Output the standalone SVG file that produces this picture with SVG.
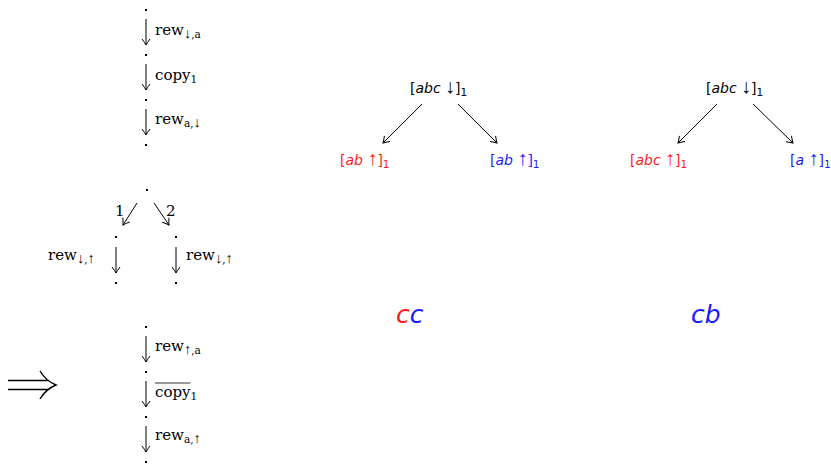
<svg xmlns="http://www.w3.org/2000/svg" width="831" height="465" viewBox="0 0 831 465">
<defs>
<marker id="ah" viewBox="-8 -5 10 10" markerWidth="10" markerHeight="10" refX="0" refY="0" orient="auto" markerUnits="userSpaceOnUse">
<path d="M-6,-4 Q-2,-1 0,0 Q-2,1 -6,4" fill="none" stroke="#000" stroke-width="1"/>
</marker>
</defs>
<style>
.s{font-family:"DejaVu Serif","Liberation Serif",serif;font-size:15px;fill:#000}
.sub{font-size:10.5px}
.ar{font-family:"Liberation Sans","DejaVu Sans",sans-serif;font-size:14.5px}
.ta{font-family:"Liberation Sans","DejaVu Sans",sans-serif;font-size:20px}
.t{font-family:"DejaVu Sans","Liberation Sans",sans-serif;font-size:14px}
.i{font-style:italic}
.k{fill:#000}.r{fill:#ff1a1a}.b{fill:#1a1aff}
.dot{fill:#000}
.e{stroke:#000;stroke-width:1;fill:none;marker-end:url(#ah)}
.big{font-family:"DejaVu Sans","Liberation Sans",sans-serif;font-size:25px;font-style:italic}
</style>
<g id="left-top">
<rect class="dot" x="145" y="9" width="2" height="2"/>
<rect class="dot" x="145" y="54" width="2" height="2"/>
<rect class="dot" x="145" y="99" width="2" height="2"/>
<rect class="dot" x="145" y="144" width="2" height="2"/>
<text class="s" x="155" y="35">rew<tspan class="sub" dy="3"><tspan class="ar">↓</tspan>,a</tspan></text>
<text class="s" x="155" y="80">copy<tspan class="sub" dy="3">1</tspan></text>
<text class="s" x="155" y="124">rew<tspan class="sub" dy="3">a,<tspan class="ar">↓</tspan></tspan></text>
</g>
<g id="left-mid">
<rect class="dot" x="146" y="189" width="2" height="2"/>
<rect class="dot" x="115" y="236" width="2" height="2"/>
<rect class="dot" x="175" y="236" width="2" height="2"/>
<rect class="dot" x="115" y="282" width="2" height="2"/>
<rect class="dot" x="175" y="282" width="2" height="2"/>
<text class="s" x="115" y="216">1</text>
<text class="s" x="166" y="216">2</text>
<text class="s" x="48" y="260">rew<tspan class="sub" dy="3"><tspan class="ar">↓</tspan>,<tspan class="ar">↑</tspan></tspan></text>
<text class="s" x="186" y="260">rew<tspan class="sub" dy="3"><tspan class="ar">↓</tspan>,<tspan class="ar">↑</tspan></tspan></text>
</g>
<g id="left-bottom">
<rect class="dot" x="145" y="326" width="2" height="2"/>
<rect class="dot" x="145" y="371" width="2" height="2"/>
<rect class="dot" x="145" y="416" width="2" height="2"/>
<rect class="dot" x="145" y="461" width="2" height="2"/>
<text class="s" x="155" y="351">rew<tspan class="sub" dy="3"><tspan class="ar">↑</tspan>,a</tspan></text>
<text class="s" x="155" y="397">copy<tspan class="sub" dy="3">1</tspan></text>
<line x1="155" y1="383" x2="190.5" y2="383" stroke="#000" stroke-width="0.8"/>
<text class="s" x="155" y="440">rew<tspan class="sub" dy="3">a,<tspan class="ar">↑</tspan></tspan></text>
</g>
<g id="implies">
<path d="M8,380.5 H48 M8,389.5 H48 M40,371 Q46,381 56,385 Q46,389 40,399" fill="none" stroke="#000" stroke-width="1.4"/>
</g>
<g id="tree1-root"><text class="t k" x="410" y="93">[<tspan class="i">abc</tspan> <tspan class="ta">↓</tspan>]<tspan class="sub" dy="3">1</tspan></text></g>
<g id="tree1-left"><text class="t r" x="340" y="165">[<tspan class="i">ab</tspan> <tspan class="ta">↑</tspan>]<tspan class="sub" dy="3">1</tspan></text></g>
<g id="tree1-right"><text class="t b" x="490" y="165">[<tspan class="i">ab</tspan> <tspan class="ta">↑</tspan>]<tspan class="sub" dy="3">1</tspan></text></g>
<g id="tree2-root"><text class="t k" x="706" y="93">[<tspan class="i">abc</tspan> <tspan class="ta">↓</tspan>]<tspan class="sub" dy="3">1</tspan></text></g>
<g id="tree2-left"><text class="t r" x="630" y="165">[<tspan class="i">abc</tspan> <tspan class="ta">↑</tspan>]<tspan class="sub" dy="3">1</tspan></text></g>
<g id="tree2-right"><text class="t b" x="790" y="165">[<tspan class="i">a</tspan> <tspan class="ta">↑</tspan>]<tspan class="sub" dy="3">1</tspan></text></g>
<g id="result1"><text class="big" x="396" y="323"><tspan class="r">c</tspan><tspan class="b">c</tspan></text></g>
<g id="result2"><text class="big b" x="691" y="323">cb</text></g>
<g id="connectors">
<line class="e" x1="146" y1="19" x2="146" y2="45"/>
<line class="e" x1="146" y1="64" x2="146" y2="90"/>
<line class="e" x1="146" y1="109" x2="146" y2="135"/>
<line class="e" x1="137" y1="203" x2="123" y2="225"/>
<line class="e" x1="154" y1="203" x2="169" y2="225"/>
<line class="e" x1="116" y1="247" x2="116" y2="273"/>
<line class="e" x1="176" y1="247" x2="176" y2="273"/>
<line class="e" x1="146" y1="336" x2="146" y2="362"/>
<line class="e" x1="146" y1="381" x2="146" y2="407"/>
<line class="e" x1="146" y1="426" x2="146" y2="452"/>
<line class="e" x1="422" y1="104" x2="383" y2="143"/>
<line class="e" x1="458" y1="104" x2="497" y2="143"/>
<line class="e" x1="717" y1="104" x2="678" y2="143"/>
<line class="e" x1="753" y1="104" x2="793" y2="143"/>
</g>
</svg>
